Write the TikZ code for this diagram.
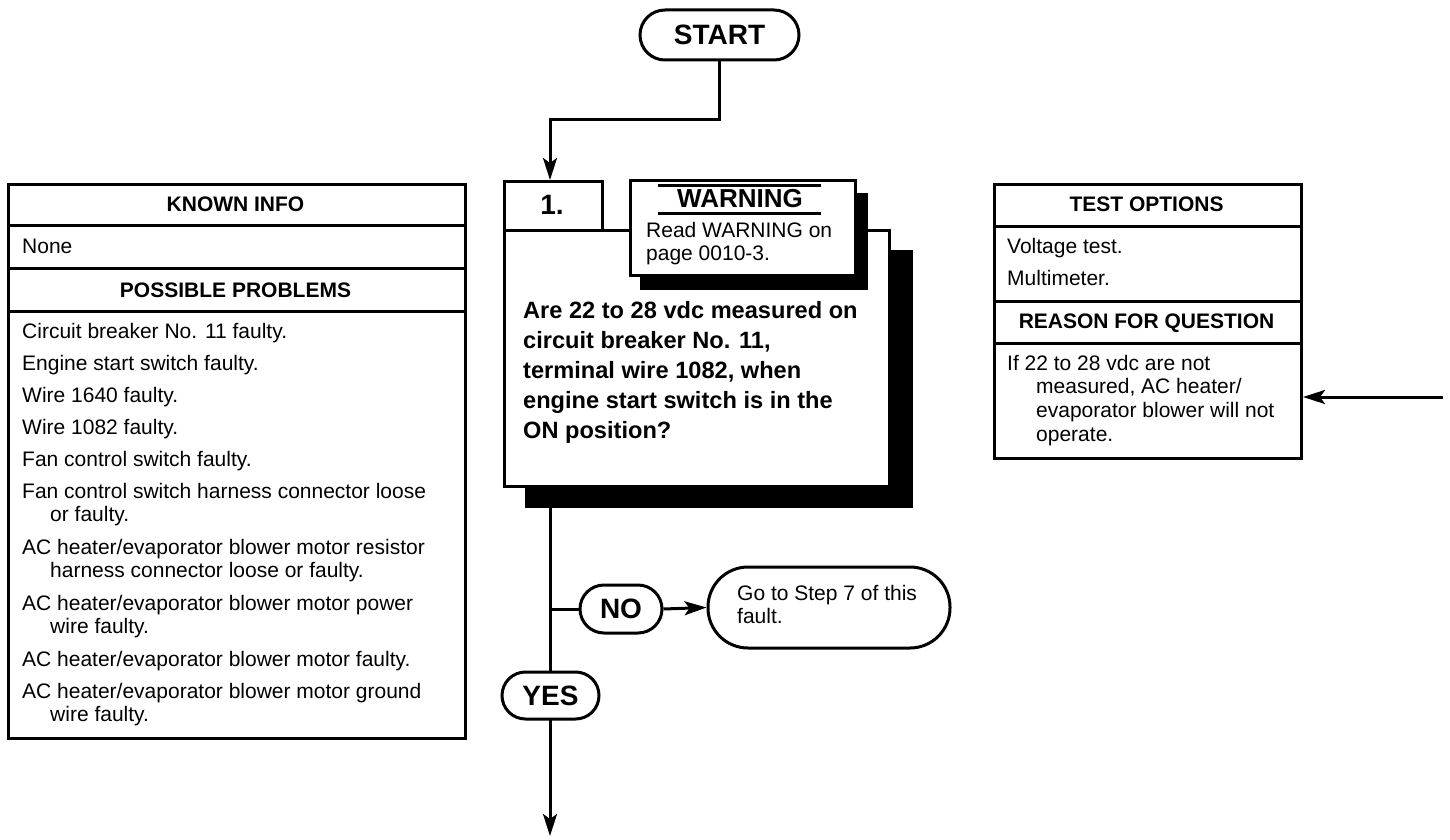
\documentclass[tikz,border=0pt]{standalone}
\usepackage{fontspec}
\setmainfont{Liberation Sans}
\usetikzlibrary{arrows.meta}
\pgfdeclarelayer{background}
\pgfsetlayers{background,main}
\tikzset{
  lw/.style={line width=3pt},
  frame/.style={draw, line width=3pt, fill=white, inner sep=0pt, anchor=north west},
  body/.style={font=\fontsize{21}{23}\selectfont, inner sep=0pt, anchor=base west},
  hdr/.style={font=\bfseries\fontsize{21}{23}\selectfont, inner sep=0pt, anchor=base},
  qtext/.style={font=\bfseries\fontsize{23.6}{30}\selectfont, inner sep=0pt, anchor=base west},
  pill/.style={draw, line width=3pt, fill=white, inner sep=0pt, font=\bfseries\fontsize{28}{30}\selectfont},
  arr/.style={line width=3pt, -{Stealth[length=22pt,width=14pt,inset=5pt]}},
  conn/.style={line width=3pt},
}
\begin{document}
\begin{tikzpicture}[x=1pt,y=-1pt]
\useasboundingbox (0,0) rectangle (1450,840);

% START
\node[pill, minimum width=159pt, minimum height=50pt, rounded corners=25pt] (start) at (719.5,35) {START};

% Left panel
\node[frame, minimum width=457pt, minimum height=554pt] (lp) at (7,183) {};
\draw[lw] (7,225) -- (464,225);
\draw[lw] (7,268) -- (464,268);
\draw[lw] (7,311) -- (464,311);
\node[hdr] (ki) at (235.5,211) {KNOWN INFO};
\node[body] (none) at (22,253) {None};
\node[hdr] (pp) at (235.5,297) {POSSIBLE PROBLEMS};
\node[body] (p1) at (22,338) {Circuit breaker No. 11 faulty.};
\node[body] (p2) at (22,370) {Engine start switch faulty.};
\node[body] (p3) at (22,402) {Wire 1640 faulty.};
\node[body] (p4) at (22,434) {Wire 1082 faulty.};
\node[body] (p5) at (22,466) {Fan control switch faulty.};
\node[body] (p6) at (22,498) {Fan control switch harness connector loose};
\node[body] (p6b) at (50,521) {or faulty.};
\node[body] (p7) at (22,554) {AC heater/evaporator blower motor resistor};
\node[body] (p7b) at (50,577) {harness connector loose or faulty.};
\node[body] (p8) at (22,610) {AC heater/evaporator blower motor power};
\node[body] (p8b) at (50,633) {wire faulty.};
\node[body] (p9) at (22,666) {AC heater/evaporator blower motor faulty.};
\node[body] (p10) at (22,698) {AC heater/evaporator blower motor ground};
\node[body] (p10b) at (50,721) {wire faulty.};

% Right panel
\node[frame, minimum width=307pt, minimum height=274pt] (rp) at (993,183) {};
\draw[lw] (993,226) -- (1300,226);
\draw[lw] (993,301) -- (1300,301);
\draw[lw] (993,343) -- (1300,343);
\node[hdr] (to) at (1146.5,211) {TEST OPTIONS};
\node[body] (t1) at (1007,253) {Voltage test.};
\node[body] (t2) at (1007,285) {Multimeter.};
\node[hdr] (rq) at (1146.5,328) {REASON FOR QUESTION};
\node[body] (r1) at (1007,370) {If 22 to 28 vdc are not};
\node[body] (r2) at (1036,393) {measured, AC heater/};
\node[body] (r3) at (1036,417) {evaporator blower will not};
\node[body] (r4) at (1036,441) {operate.};

% Step 1 box
\fill (525,250) rectangle (913,508);
\node[frame, minimum width=385pt, minimum height=256pt] (q) at (503,229) {};
\node[frame, minimum width=98pt, minimum height=49pt] (one) at (503,180) {};
\node[font=\bfseries\fontsize{28}{30}\selectfont, inner sep=0pt, anchor=base] (onet) at (552,214) {1.};
\fill (640,193) rectangle (868,290);
\node[frame, minimum width=225pt, minimum height=95pt] (warn) at (629,179) {};
\node[font=\bfseries\fontsize{26}{28}\selectfont, inner sep=0pt, anchor=base] (warnt) at (740,207) {WARNING};
\draw[lw] (658,185) -- (821,185);
\draw[lw] (658,213) -- (821,213);
\node[body] (w1) at (646,237) {Read WARNING on};
\node[body] (w2) at (646,260) {page 0010-3.};
\node[qtext] (q1) at (523,318) {Are 22 to 28 vdc measured on};
\node[qtext] (q2) at (523,348) {circuit breaker No. 11,};
\node[qtext] (q3) at (523,378) {terminal wire 1082, when};
\node[qtext] (q4) at (523,408) {engine start switch is in the};
\node[qtext] (q5) at (523,438) {ON position?};

% NO / YES / Go to
\node[pill, minimum width=82pt, minimum height=48pt, rounded corners=24pt] (no) at (621,609) {NO};
\node[pill, minimum width=97pt, minimum height=47pt, rounded corners=23.5pt] (yes) at (550.5,695.5) {YES};
\node[draw, line width=3pt, fill=white, minimum width=242pt, minimum height=81pt, rounded corners=40pt] (go) at (829,607.5) {};
\node[body] (g1) at (737,600) {Go to Step 7 of this};
\node[body] (g2) at (737,623) {fault.};

% Connectors
\coordinate (j1) at (550,120);
\coordinate (jn) at (550,609);
\coordinate (endp) at (550,836);
\coordinate (rin) at (1443,397);
\begin{pgfonlayer}{background}
\draw[arr] (q.south -| jn) -- (endp);
\draw[conn] (jn) -- (no.west);
\end{pgfonlayer}
\draw[arr] (start.south) |- (j1) -- (j1 |- one.north);
\draw[arr] (no.east) -- (go.west);
\draw[arr] (rin) -- (rin -| rp.east);
\end{tikzpicture}
\end{document}
